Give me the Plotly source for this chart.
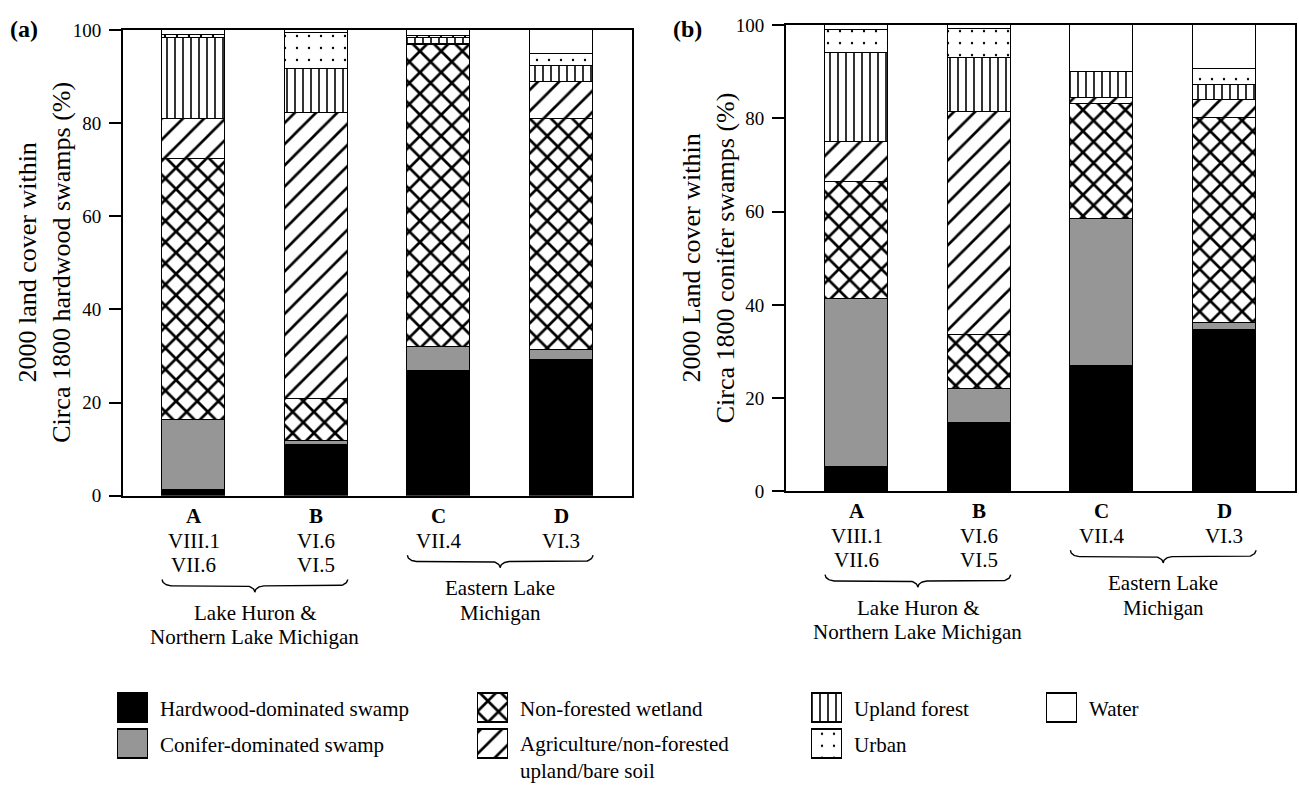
import numpy as np
import plotly.graph_objects as go

# ---------------- data ----------------
categories = ["A", "B", "C", "D"]
eco_labels = [["VIII.1", "VII.6"], ["VI.6", "VI.5"], ["VII.4"], ["VI.3"]]
groups = [(0, 1, "Lake Huron &", "Northern Lake Michigan"),
          (2, 3, "Eastern Lake", "Michigan")]

classes = ["Hardwood-dominated swamp", "Conifer-dominated swamp", "Non-forested wetland",
           "Agriculture/non-forested upland/bare soil", "Upland forest", "Urban", "Water"]

# panel (a): 2000 land cover within circa 1800 hardwood swamps (%)
hardwood_a = [1.2, 10.9, 26.8, 29.1]
conifer_a = [15.1, 0.9, 5.1, 2.2]
wetland_a = [56.0, 9.0, 64.9, 49.5]
agri_a = [8.7, 61.3, 0.3, 8.0]
upland_a = [17.2, 9.5, 1.1, 3.5]
urban_a = [0.7, 7.7, 0.5, 2.6]
water_a = [1.1, 0.7, 1.3, 5.1]

# panel (b): 2000 land cover within circa 1800 conifer swamps (%)
hardwood_b = [5.3, 14.6, 26.9, 34.7]
conifer_b = [35.9, 7.3, 31.4, 1.3]
wetland_b = [25.1, 11.7, 24.8, 44.0]
agri_b = [8.6, 47.7, 1.3, 4.0]
upland_b = [19.1, 11.6, 5.6, 3.2]
urban_b = [5.0, 6.3, 0.0, 3.4]
water_b = [1.0, 0.8, 10.0, 9.4]

yticks = [0, 20, 40, 60, 80, 100]

# ---------------- styles ----------------
FONT = "Liberation Serif, Times New Roman, serif"
W, H = 1299, 793
styles = [
    dict(color="black"),
    dict(color="#969696"),
    dict(color="white", pattern=dict(shape="x", size=15, solidity=0.33, fgcolor="black", bgcolor="white", fgopacity=1)),
    dict(color="white", pattern=dict(shape="/", size=15, solidity=0.18, fgcolor="black", bgcolor="white", fgopacity=1)),
    dict(color="white", pattern=dict(shape="|", size=8, solidity=0.2, fgcolor="black", bgcolor="white", fgopacity=1)),
    dict(color="white", pattern=dict(shape=".", size=12, solidity=0.03, fgcolor="black", bgcolor="white", fgopacity=1)),
    dict(color="white"),
]

def px_x(p):
    return p / W

def px_y(p):
    return (H - p) / H

fig = go.Figure()

BAR_W = 0.513
series_a = [hardwood_a, conifer_a, wetland_a, agri_a, upland_a, urban_a, water_a]
series_b = [hardwood_b, conifer_b, wetland_b, agri_b, upland_b, urban_b, water_b]
for xa, ya, ser in (("x", "y", series_a), ("x2", "y2", series_b)):
    for name, vals, st in zip(classes, ser, styles):
        fig.add_trace(go.Bar(
            x=categories, y=vals, name=name, xaxis=xa, yaxis=ya, width=BAR_W,
            marker=dict(line=dict(color="black", width=1.3), **st),
            showlegend=False,
        ))

# ---------------- layout of axes ----------------
XR = [-0.575, 3.575]
panel_px = {  # left, right, top, bottom in pixels
    "a": (123, 632, 20.5, 499),
    "b": (786, 1295, 15.5, 494.5),
}
ax_common = dict(showline=True, linewidth=2, linecolor="black", mirror=True, showgrid=False, zeroline=False)
la, ra, ta, ba = panel_px["a"]
lb, rb, tb, bb = panel_px["b"]
yax = dict(range=[0, 100], tickvals=yticks, ticks="outside", ticklen=12, tickwidth=2, tickcolor="black",
           tickfont=dict(family=FONT, size=19, color="black"), ticklabelstandoff=4, **ax_common)
xax = dict(range=XR, type="category", categoryorder="array", categoryarray=categories,
           showticklabels=False, ticks="", **ax_common)
fig.update_layout(
    xaxis=dict(domain=[px_x(la), px_x(ra)], anchor="y", **xax),
    yaxis=dict(domain=[px_y(ba), px_y(ta)], anchor="x", **yax),
    xaxis2=dict(domain=[px_x(lb), px_x(rb)], anchor="y2", **xax),
    yaxis2=dict(domain=[px_y(bb), px_y(tb)], anchor="x2", **yax),
    # label areas under the panels (y in pixel-like units, reversed)
    xaxis3=dict(domain=[px_x(la), px_x(ra)], anchor="y3", range=XR, visible=False),
    yaxis3=dict(domain=[px_y(660), px_y(505)], anchor="x3", range=[660, 505], visible=False),
    xaxis4=dict(domain=[px_x(lb), px_x(rb)], anchor="y4", range=XR, visible=False),
    yaxis4=dict(domain=[px_y(655), px_y(500)], anchor="x4", range=[660, 505], visible=False),
    # legend area
    xaxis5=dict(domain=[0, 1], anchor="y5", range=[0, W], visible=False),
    yaxis5=dict(domain=[0, px_y(688)], anchor="x5", range=[H, 688], visible=False),
)

annotations = []

# category labels, braces, group labels
def brace(x0, x1, ytop, yh, rx=0.08):
    ry = yh / 2.0
    xm = (x0 + x1) / 2.0
    t = np.linspace(0, np.pi / 2, 20)
    xs = list(x0 + rx * (1 - np.cos(t)))
    ys = list(ytop + ry * np.sin(t))
    xs += list(xm - rx + rx * np.sin(t))
    ys += list(ytop + ry + ry * (1 - np.cos(t)))
    xs += list(xm + rx - rx * np.sin(t[::-1]))
    ys += list(ytop + ry + ry * (1 - np.cos(t[::-1])))
    xs += list(x1 - rx * (1 - np.cos(t[::-1])))
    ys += list(ytop + ry * np.sin(t[::-1]))
    return xs, ys

txt = dict(showarrow=False, xanchor="center", yanchor="middle")
for xa, ya in (("x3", "y3"), ("x4", "y4")):
    for i, cat in enumerate(categories):
        annotations.append(dict(x=i, y=520, xref=xa, yref=ya, text="<b>%s</b>" % cat,
                                font=dict(family=FONT, size=21, color="black"), **txt))
        for j, lab in enumerate(eco_labels[i]):
            annotations.append(dict(x=i, y=545 + 25 * j, xref=xa, yref=ya, text=lab,
                                    font=dict(family=FONT, size=21, color="black"), **txt))
    for (g0, g1, l1, l2) in groups:
        nlines = max(len(eco_labels[g0]), len(eco_labels[g1]))
        btop = 535 + 25 * nlines
        bx, by = brace(g0 - BAR_W / 2, g1 + BAR_W / 2, btop, 13)
        fig.add_trace(go.Scatter(x=bx, y=by, xaxis=xa, yaxis=ya, mode="lines",
                                 line=dict(color="black", width=1.4), showlegend=False, hoverinfo="skip"))
        annotations.append(dict(x=(g0 + g1) / 2, y=btop + 34, xref=xa, yref=ya, text=l1,
                                font=dict(family=FONT, size=21, color="black"), **txt))
        annotations.append(dict(x=(g0 + g1) / 2, y=btop + 59, xref=xa, yref=ya, text=l2,
                                font=dict(family=FONT, size=21, color="black"), **txt))

# y-axis titles and panel letters
annotations.append(dict(x=px_x(45), y=px_y((ta + ba) / 2), xref="paper", yref="paper", textangle=-90,
                        text="2000 land cover within<br>Circa 1800 hardwood swamps (%)",
                        font=dict(family=FONT, size=26, color="black"), **txt))
annotations.append(dict(x=px_x(708), y=px_y((tb + bb) / 2), xref="paper", yref="paper", textangle=-90,
                        text="2000 Land cover within<br>Circa 1800 conifer swamps (%)",
                        font=dict(family=FONT, size=26, color="black"), **txt))
annotations.append(dict(x=px_x(24), y=px_y(20), xref="paper", yref="paper", text="<b>(a)</b>",
                        font=dict(family=FONT, size=24, color="black"), **txt))
annotations.append(dict(x=px_x(687), y=px_y(20), xref="paper", yref="paper", text="<b>(b)</b>",
                        font=dict(family=FONT, size=24, color="black"), **txt))

# ---------------- custom legend ----------------
leg_cols = [133, 493, 827, 1062]
leg_rows = [702, 739]
leg_items = [(0, 0), (0, 1), (1, 0), (1, 1), (2, 0), (2, 1), (3, 0)]
leg_text = ["Hardwood-dominated swamp", "Conifer-dominated swamp", "Non-forested wetland",
            "Agriculture/non-forested<br>upland/bare soil", "Upland forest", "Urban", "Water"]
for k, ((c, r), st) in enumerate(zip(leg_items, styles)):
    fig.add_trace(go.Bar(x=[leg_cols[c]], y=[30], base=[leg_rows[r]], width=30, xaxis="x5", yaxis="y5",
                         marker=dict(line=dict(color="black", width=1.3), **st), showlegend=False,
                         hoverinfo="skip"))
    two = "<br>" in leg_text[k]
    annotations.append(dict(x=leg_cols[c] + 25, y=(leg_rows[r] + 29) if two else (leg_rows[r] + 16),
                            xref="x5", yref="y5", xanchor="left", yanchor="middle",
                            align="left", text=leg_text[k], showarrow=False,
                            font=dict(family=FONT, size=21, color="black")))

fig.update_layout(
    width=W, height=H, margin=dict(l=0, r=0, t=0, b=0),
    barmode="stack", bargap=0, plot_bgcolor="white", paper_bgcolor="white",
    annotations=annotations, showlegend=False,
    font=dict(family=FONT, color="black"),
)

fig.write_html("out.html")
